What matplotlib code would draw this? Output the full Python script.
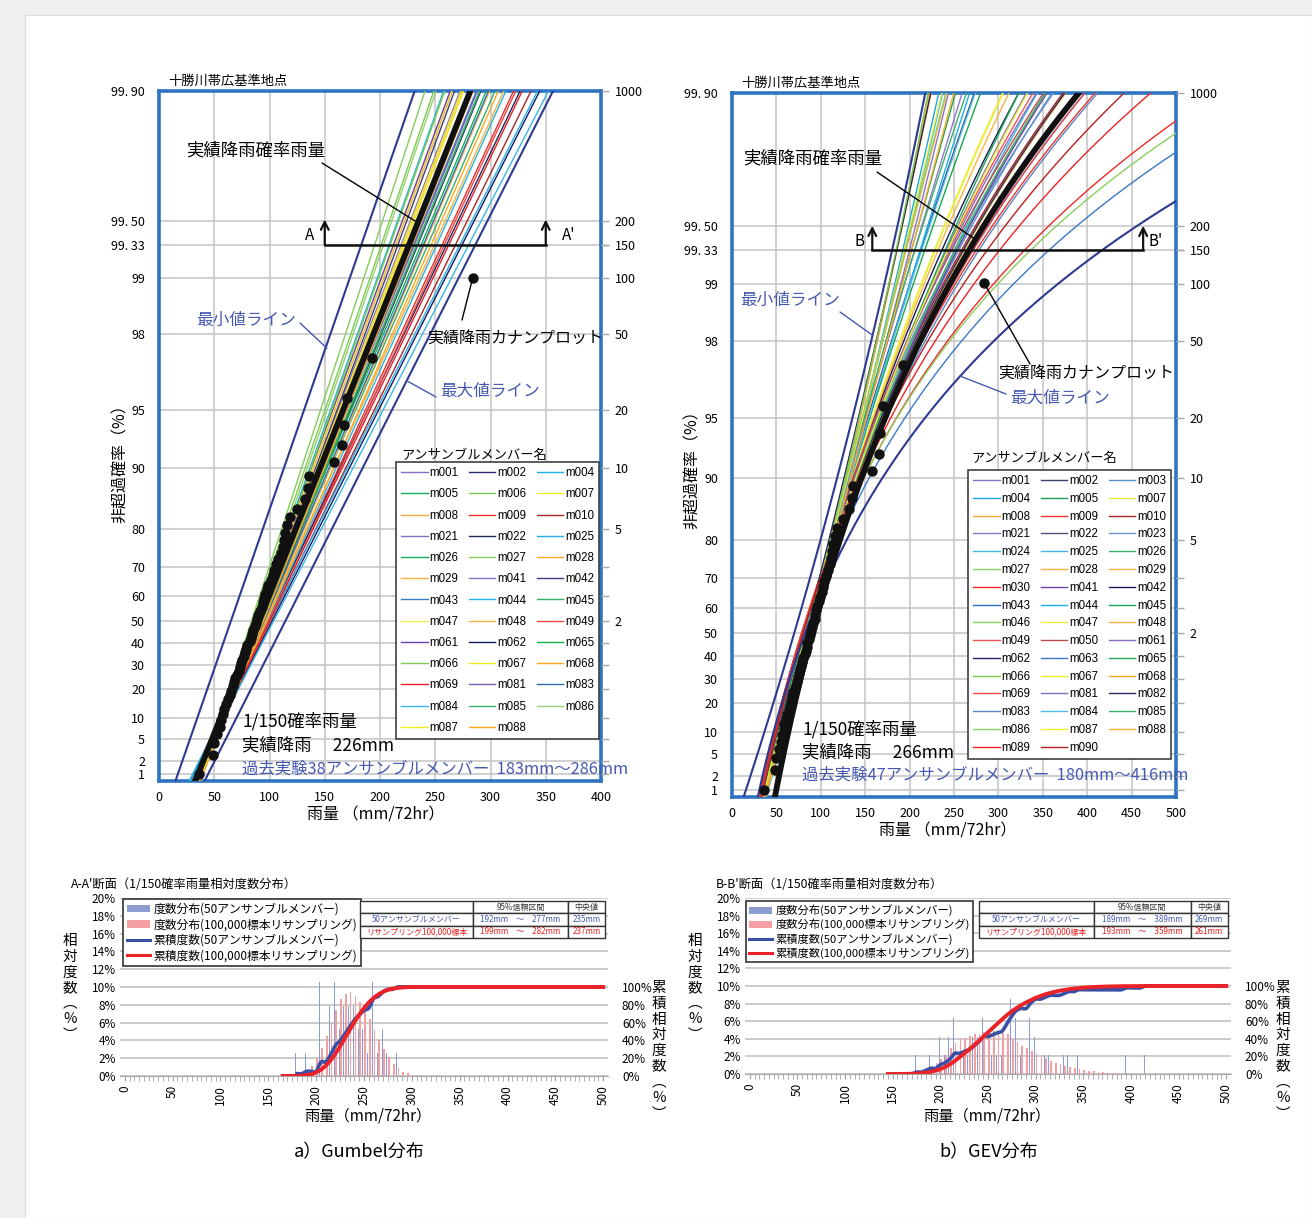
import numpy as np
import matplotlib
matplotlib.use('Agg')
import matplotlib.pyplot as plt
from matplotlib.lines import Line2D
from matplotlib.patches import Patch, Rectangle

plt.rcParams['font.family'] = ['Noto Sans CJK JP', 'DejaVu Sans']

# ---------------- data ----------------
prob_ticks = [99.9, 99.5, 99.33, 99, 98, 95, 90, 80, 70, 60, 50, 40, 30, 20, 10, 5, 2, 1]
prob_labels = ['99. 90', '99. 50', '99. 33', '99', '98', '95', '90', '80', '70', '60',
               '50', '40', '30', '20', '10', '5', '2', '1']
return_periods = [1000, 200, 150, 100, 50, 20, 10, 5, 2]

# observed annual maximum 72hr rainfall (mm), descending
rain_obs = [284, 193, 170, 167, 166, 158, 136, 135, 132, 125,
            118.5, 115.5, 114, 113, 112, 110, 108, 106, 104, 103,
            101, 99, 98, 96, 95, 94, 93, 91, 90, 89,
            88, 87, 85, 84, 83, 82, 80, 79, 78, 77,
            75, 74, 73, 72, 71, 69, 68, 67, 65, 64,
            62, 61, 59, 58, 56, 55, 52.7, 49.8, 48.5, 36]

# Gumbel members (location mu, scale beta)
gum_members = ['m001', 'm002', 'm004', 'm005', 'm006', 'm007', 'm008', 'm009', 'm010', 'm021',
               'm022', 'm025', 'm026', 'm027', 'm028', 'm029', 'm041', 'm042', 'm043', 'm044',
               'm045', 'm047', 'm048', 'm049', 'm061', 'm062', 'm065', 'm066', 'm067', 'm068',
               'm069', 'm081', 'm083', 'm084', 'm085', 'm086', 'm087', 'm088']
gum_mu = [80, 84, 78, 82, 76, 81, 79, 86, 88, 80, 85, 87, 83, 75, 82, 84, 79, 81, 80, 86,
          83, 78, 85, 88, 77, 89, 82, 79, 80, 86, 87, 81, 84, 90, 83, 78, 82, 84]
gum_beta = [28, 30, 26, 31, 25, 29, 27, 34, 36, 29, 35, 37, 30, 24, 28, 33, 28, 27, 30, 33,
            32, 27, 31, 34, 27, 37, 29, 26, 28, 32, 35, 30, 31, 38, 30, 25, 28, 29]
gum_colors = ['#8E6FC8', '#2B2F6B', '#1EB4E8', '#13B04F', '#7CCB4E', '#F2EE22', '#F7A93A',
              '#E8302E', '#A82828', '#8A6CC0', '#1E2A5A', '#2AB0E6', '#12B050', '#84CC5A',
              '#FFA91E', '#FBB040', '#8A6FC6', '#3A3F78', '#3A7CC9', '#27B3E8', '#34B06A',
              '#EEEE55', '#F7B045', '#EE4A4A', '#6A3FB6', '#141A5E', '#11AE4E', '#7CC94D',
              '#F2EB1B', '#FFA820', '#E5202A', '#7B62B5', '#2F6EB6', '#3AB6EA', '#3FB36D',
              '#97CE78', '#F3EE1A', '#FFA81C']
gum_obs_param = [80, 29.2]
gum_min_param = [55.9, 25.4]
gum_max_param = [101, 37]

# GEV members (location, scale, shape)
gev_members = ['m001', 'm002', 'm003', 'm004', 'm005', 'm007', 'm008', 'm009', 'm010', 'm021',
               'm022', 'm023', 'm024', 'm025', 'm026', 'm027', 'm028', 'm029', 'm030', 'm041',
               'm042', 'm043', 'm044', 'm045', 'm046', 'm047', 'm048', 'm049', 'm050', 'm061',
               'm062', 'm063', 'm065', 'm066', 'm067', 'm068', 'm069', 'm081', 'm082', 'm083',
               'm084', 'm085', 'm086', 'm087', 'm088', 'm089', 'm090']
gev_mu = [76, 74, 70, 78, 72, 75, 77, 68, 70, 74, 73, 71, 76, 75, 73, 74, 76, 72, 68, 75,
          74, 70, 75, 73, 69, 74, 76, 70, 71, 73, 74, 69, 74, 76, 75, 73, 70, 74, 72, 71,
          75, 73, 75, 74, 77, 69, 70]
gev_a = [26, 25, 27, 24, 26, 25, 24, 27, 26, 25, 26, 25, 25, 27, 24, 26, 23, 26, 27, 26,
         25, 27, 26, 26, 26, 25, 24, 26, 25, 26, 24, 28, 27, 24, 25, 26, 27, 25, 26, 27,
         25, 26, 24, 26, 25, 27, 26]
gev_k = [0.02, -0.04, -0.12, 0.02, 0.00, -0.08, 0.04, -0.16, -0.14, -0.02,
         -0.10, -0.14, 0.02, -0.10, -0.04, -0.12, 0.02, -0.08, -0.24, -0.12,
         -0.10, -0.15, -0.02, -0.04, -0.26, -0.08, 0.00, -0.11, -0.13, -0.10,
         0.03, -0.26, -0.08, 0.04, 0.02, -0.14, -0.15, -0.12, -0.14, -0.16,
         -0.04, -0.12, 0.00, -0.10, 0.00, -0.20, -0.19]
gev_colors = ['#8E72C6', '#3B3F73', '#5B8FD0', '#1AA7E0', '#1AA050', '#EEEA3A', '#F9A83A',
              '#E8362E', '#A82020', '#9178C8', '#4A4E7C', '#6A95CF', '#3EBDE8', '#3BB7E6',
              '#3DB36A', '#8ED06A', '#FBB03B', '#FAB443', '#F02828', '#6B40B0', '#161A5A',
              '#2D6DC0', '#1AAEE8', '#17A84F', '#8CCF5E', '#EEEE40', '#F9B040', '#EE5555',
              '#C04848', '#8A70C4', '#24285E', '#3A78C8', '#22AA55', '#7CC653', '#EDEA2E',
              '#F9A624', '#EE4848', '#8470BA', '#2A2D5E', '#5A86C4', '#4DBCE8', '#3DB36E',
              '#8ED06A', '#F0EE30', '#FBB034', '#EE2222', '#B81E1E']
gev_obs_param = [81.5, 23.5, -0.17]
gev_min_param = [60, 27.7, 0.058]
gev_max_param = [70.2, 31.7, -0.28]

# histograms (5 mm categories)
gum_ens_bins = [180, 190, 205, 215, 220, 225, 230, 235, 240, 245, 250, 255, 260, 265, 270, 275, 285]
gum_ens_counts = [1, 1, 4, 3, 4, 2, 3, 3, 3, 2, 2, 1, 4, 1, 2, 1, 1]
gum_res_bins = list(range(180, 306, 5))
gum_res_pct = [0.1, 0.3, 0.6, 1.1, 2.0, 3.1, 4.5, 6.0, 7.4, 8.6, 9.2, 9.4, 9.0, 8.3, 7.4, 6.4,
               5.2, 4.0, 3.0, 2.1, 1.4, 0.9, 0.5, 0.3, 0.15, 0.08]
gev_ens_bins = [175, 185, 190, 200, 205, 210, 215, 225, 230, 235, 240, 245, 255, 260, 265, 270,
                275, 280, 285, 295, 300, 310, 315, 330, 335, 345, 395, 415]
gev_ens_counts = [1, 1, 1, 2, 1, 2, 3, 1, 1, 2, 2, 3, 1, 1, 1, 4, 4, 3, 1, 3, 2, 1, 1, 1, 1, 1, 1, 1]
gev_res_bins = list(range(160, 421, 5))
gev_res_pct = [0.05, 0.08, 0.12, 0.25, 0.4, 0.6, 0.9, 1.3, 1.7, 2.2,
               3.0, 3.5, 4.0, 4.1, 4.3, 4.5, 4.6, 4.8, 5.0, 4.9,
               4.8, 4.7, 4.6, 4.0, 3.6, 3.2, 2.9, 2.6, 2.4, 2.0,
               1.8, 1.5, 1.3, 1.1, 0.95, 0.8, 0.65, 0.55, 0.45, 0.38,
               0.3, 0.25, 0.2, 0.16, 0.13, 0.1, 0.08, 0.06, 0.05, 0.04,
               0.03, 0.02, 0.02]
categories = list(range(0, 501, 5))

gum_table = [['', '95%信頼区間', '中央値'],
             ['50アンサンブルメンバー', '192mm　～　277mm', '235mm'],
             ['リサンプリング100,000標本', '199mm　～　282mm', '237mm']]
gev_table = [['', '95%信頼区間', '中央値'],
             ['50アンサンブルメンバー', '189mm　～　389mm', '269mm'],
             ['リサンプリング100,000標本', '193mm　～　359mm', '261mm']]

# ---------------- helpers ----------------
W, H = 1312, 1218
BLUE_TXT = '#4659B2'
SPINE = '#2E74C0'
EXT = '#2E3A8F'


def F(x, y):
    return (x / W, 1 - y / H)


def gumy(p):
    p = np.asarray(p, dtype=float)
    return -np.log(-np.log(p))


def gev_x(y, mu, a, k):
    if k == 0:
        return mu + a * y
    return mu + a / k * (1 - np.exp(-k * y))


def smooth(xs, ys, n=8):
    P = np.column_stack([xs, ys]).astype(float)
    P = np.vstack([P[0], P, P[-1]])
    out = []
    t = np.linspace(0, 1, n, endpoint=False)[:, None]
    for i in range(1, len(P) - 2):
        p0, p1, p2, p3 = P[i - 1], P[i], P[i + 1], P[i + 2]
        seg = 0.5 * ((2 * p1) + (-p0 + p2) * t + (2 * p0 - 5 * p1 + 4 * p2 - p3) * t ** 2
                     + (-p0 + 3 * p1 - 3 * p2 + p3) * t ** 3)
        out.append(seg)
    out.append(P[-2][None, :])
    S = np.vstack(out)
    return S[:, 0], S[:, 1]


YMAX = float(gumy(0.999))
YMIN = -1.615
yline = np.linspace(-1.8, 7.1, 400)

fig = plt.figure(figsize=(13.12, 12.18), dpi=100)
fig.patch.set_facecolor('#EEF0F0')
fig.patches.append(Rectangle((25 / W, 0), 1 - 25 / W, 1 - 15 / H, transform=fig.transFigure,
                             facecolor='white', edgecolor='#DCDCDC', lw=0.8, zorder=-10))


def setup_prob_axes(ax, xmax):
    ax.set_xlim(0, xmax)
    ax.set_ylim(YMIN, YMAX)
    ax.set_yticks(gumy(np.array(prob_ticks) / 100))
    ax.set_yticklabels(prob_labels, fontsize=9)
    ax.set_xticks(np.arange(0, xmax + 1, 50))
    ax.set_xticklabels([str(v) for v in range(0, xmax + 1, 50)], fontsize=9)
    ax.tick_params(axis='y', length=0, pad=10)
    ax.tick_params(axis='x', length=0, pad=7)
    ax.grid(True, color='#C8C8C8', lw=1.2)
    ax.set_axisbelow(True)
    for s in ax.spines.values():
        s.set_color(SPINE)
        s.set_linewidth(2.6)
    axr = ax.twinx()
    axr.set_ylim(YMIN, YMAX)
    axr.set_yticks(gumy(1 - 1 / np.array(return_periods, dtype=float)))
    axr.set_yticklabels([str(t) for t in return_periods], fontsize=9)
    axr.set_yticks(gumy(np.array(prob_ticks) / 100), minor=True)
    axr.tick_params(axis='y', which='both', length=6, color='#A8A8A8', width=1, pad=4)
    for s in axr.spines.values():
        s.set_visible(False)
    return axr


def member_legend(ax, handles, names, x, y, spacing):
    order = list(range(0, len(names), 3)) + list(range(1, len(names), 3)) + list(range(2, len(names), 3))
    leg = ax.legend([handles[i] for i in order], [names[i] for i in order], ncol=3,
                    loc='upper left', bbox_to_anchor=F(x, y), bbox_transform=fig.transFigure,
                    prop={'family': 'Liberation Sans', 'size': 8.3}, frameon=True, fancybox=False,
                    edgecolor='#404040', borderaxespad=0, handlelength=2.3, handletextpad=0.15,
                    columnspacing=0.9, labelspacing=spacing, borderpad=0.45, framealpha=1)
    leg.get_frame().set_linewidth(1.2)
    leg.set_zorder(20)
    return leg


def leader(ax, xy_data, xy_px, color='black'):
    ax.annotate('', xy=xy_data, xycoords='data', xytext=F(*xy_px), textcoords='figure fraction',
                arrowprops=dict(arrowstyle='-', color=color, lw=1.0, shrinkA=0, shrinkB=0),
                annotation_clip=False, zorder=15)


# ---------------- top-left: Gumbel ----------------
ax1 = fig.add_axes([159 / W, 1 - 781 / H, 442 / W, 690 / H])
setup_prob_axes(ax1, 400)
h1 = []
for mu, b, c in zip(gum_mu, gum_beta, gum_colors):
    ln, = ax1.plot(mu + b * yline, yline, color=c, lw=1.0, zorder=3)
    h1.append(ln)
for mu, b in [gum_min_param, gum_max_param]:
    ax1.plot(mu + b * yline, yline, color=EXT, lw=1.5, zorder=4)
ax1.plot(gum_obs_param[0] + gum_obs_param[1] * yline, yline, color='#111111', lw=4.2, zorder=5)

n_obs = len(rain_obs)
rank = np.arange(1, n_obs + 1)
p_obs = 1 - (rank - 0.4) / (n_obs + 0.2)
y_obs = gumy(p_obs)
ax1.plot(rain_obs, y_obs, 'o', color='#111111', ms=6.5, zorder=6, clip_on=False)

y150 = float(gumy(1 - 1 / 150))
ax1.plot([150, 350], [y150, y150], color='#111111', lw=1.8, zorder=12)
for xa in [150, 350]:
    ax1.annotate('', xy=(xa, 5.32), xytext=(xa, y150),
                 arrowprops=dict(arrowstyle='->', color='#111111', lw=1.6, mutation_scale=14,
                                 shrinkA=0, shrinkB=0), zorder=12)
fig.text(*F(310, 236), 'A', fontsize=11, ha='center', va='center')
fig.text(*F(569, 236), "A'", fontsize=11, ha='center', va='center')

member_legend(ax1, h1, gum_members, 396, 462, 0.8)
fig.text(*F(401, 455), 'アンサンブルメンバー名', fontsize=9.5, ha='left', va='center')
fig.text(*F(168, 81), '十勝川帯広基準地点', fontsize=9.5, ha='left', va='center')

fig.text(*F(256, 150), '実績降雨確率雨量', fontsize=12.5, ha='center', va='center')
leader(ax1, (232, 5.3), (322, 163))
fig.text(*F(246, 320), '最小値ライン', fontsize=12, ha='center', va='center', color=BLUE_TXT)
leader(ax1, (152, 3.73), (300, 323), color=BLUE_TXT)
fig.text(*F(515, 338), '実績降雨カナンプロット', fontsize=11.5, ha='center', va='center')
leader(ax1, (rain_obs[0], y_obs[0]), (462, 320))
fig.text(*F(490, 391), '最大値ライン', fontsize=12, ha='center', va='center', color=BLUE_TXT)
leader(ax1, (224, 3.33), (436, 397), color=BLUE_TXT)

fig.text(*F(242, 721), '1/150確率雨量', fontsize=12.5, ha='left', va='center')
fig.text(*F(242, 745), '実績降雨　 226mm', fontsize=12.5, ha='left', va='center')
fig.text(*F(242, 769), '過去実験38アンサンブルメンバー  183mm～286mm', fontsize=11.8,
         ha='left', va='center', color=BLUE_TXT)
fig.text(*F(120, 460), '非超過確率（%）', fontsize=11.5, rotation=90, ha='center', va='center')
fig.text(*F(376, 815), '雨量 （mm/72hr）', fontsize=11.5, ha='center', va='center')

# ---------------- top-right: GEV ----------------
ax2 = fig.add_axes([732 / W, 1 - 797 / H, 444 / W, 704 / H])
setup_prob_axes(ax2, 500)
h2 = []
for mu, a, k, c in zip(gev_mu, gev_a, gev_k, gev_colors):
    ln, = ax2.plot(gev_x(yline, mu, a, k), yline, color=c, lw=1.0, zorder=3)
    h2.append(ln)
for prm in [gev_min_param, gev_max_param]:
    ax2.plot(gev_x(yline, *prm), yline, color=EXT, lw=1.5, zorder=4)
ax2.plot(gev_x(yline, *gev_obs_param), yline, color='#111111', lw=4.2, zorder=5)
ax2.plot(rain_obs, y_obs, 'o', color='#111111', ms=6.5, zorder=6, clip_on=False)

ax2.plot([158, 463], [y150, y150], color='#111111', lw=1.8, zorder=12)
for xa in [158, 463]:
    ax2.annotate('', xy=(xa, 5.3), xytext=(xa, y150),
                 arrowprops=dict(arrowstyle='->', color='#111111', lw=1.6, mutation_scale=14,
                                 shrinkA=0, shrinkB=0), zorder=12)
fig.text(*F(859, 242), 'B', fontsize=11, ha='center', va='center')
fig.text(*F(1156, 242), "B'", fontsize=11, ha='center', va='center')

member_legend(ax2, h2, gev_members, 968, 470, 0.5)
fig.text(*F(971, 458), 'アンサンブルメンバー名', fontsize=9.5, ha='left', va='center')
fig.text(*F(741, 83), '十勝川帯広基準地点', fontsize=9.5, ha='left', va='center')

fig.text(*F(813, 158), '実績降雨確率雨量', fontsize=12.5, ha='center', va='center')
leader(ax2, (272, 5.15), (877, 172))
fig.text(*F(790, 300), '最小値ライン', fontsize=12, ha='center', va='center', color=BLUE_TXT)
leader(ax2, (158, 3.977), (840, 312), color=BLUE_TXT)
fig.text(*F(1086, 373), '実績降雨カナンプロット', fontsize=11.5, ha='center', va='center')
leader(ax2, (rain_obs[0], y_obs[0]), (1030, 364))
fig.text(*F(1060, 398), '最大値ライン', fontsize=12, ha='center', va='center', color=BLUE_TXT)
leader(ax2, (257, 3.48), (1006, 394), color=BLUE_TXT)

fig.text(*F(802, 729), '1/150確率雨量', fontsize=12.5, ha='left', va='center')
fig.text(*F(802, 752), '実績降雨　 266mm', fontsize=12.5, ha='left', va='center')
fig.text(*F(802, 775), '過去実験47アンサンブルメンバー  180mm～416mm', fontsize=11.8,
         ha='left', va='center', color=BLUE_TXT)
fig.text(*F(692, 466), '非超過確率（%）', fontsize=11.5, rotation=90, ha='center', va='center')
fig.text(*F(948, 831), '雨量 （mm/72hr）', fontsize=11.5, ha='center', va='center')


# ---------------- histograms ----------------
def hist_panel(rect, ens_bins, ens_counts, res_bins, res_pct, ens_start, res_start,
               table, title, title_xy, leg_xy, leg_fs, table_rect, ylab_x, ylab2_x, xlab_xy):
    ax = fig.add_axes(rect)
    cats = np.array(categories, dtype=float)
    ens = np.zeros(len(cats))
    for b, c in zip(ens_bins, ens_counts):
        ens[categories.index(b)] = c
    ens = ens / ens.sum()
    res = np.zeros(len(cats))
    for b, v in zip(res_bins, res_pct):
        res[categories.index(b)] = v / 100.0
    ax.bar(cats - 1.1, ens, width=1.0, color='#8C9DD2', zorder=3)
    ax.bar(cats + 1.0, res, width=1.8, color='#F4A0A3', zorder=3)
    ax.set_xlim(-5, 505)
    ax.set_ylim(0, 0.2)
    ax.set_yticks(np.arange(0, 0.201, 0.02))
    ax.set_yticklabels(['%d%%' % v for v in range(0, 21, 2)], fontsize=8.5)
    ax.set_xticks(np.arange(0, 501, 50))
    ax.set_xticklabels([str(v) for v in range(0, 501, 50)], fontsize=8.5, rotation=90)
    ax.set_xticks(cats, minor=True)
    ax.tick_params(axis='x', which='both', length=3.5, color='#A0A0A0', pad=3)
    ax.tick_params(axis='y', length=0, pad=3)
    ax.grid(True, axis='y', color='#BDBDBD', lw=1.1)
    ax.set_axisbelow(True)
    for k, s in ax.spines.items():
        s.set_visible(k == 'bottom')
    ax.spines['bottom'].set_color('#A8A8A8')

    axc = ax.twinx()
    axc.set_ylim(0, 2.0)
    axc.set_yticks(np.arange(0, 1.01, 0.2))
    axc.set_yticklabels(['%d%%' % v for v in range(0, 101, 20)], fontsize=8.5)
    axc.tick_params(axis='y', length=0, pad=10)
    for s in axc.spines.values():
        s.set_visible(False)
    cum_e = np.cumsum(ens)
    cum_r = np.cumsum(res) / res.sum()
    me = cats >= ens_start
    mr = cats >= res_start
    xs, ys = smooth(cats[me], cum_e[me])
    axc.plot(xs, ys, color='#3A4FA6', lw=2.6, zorder=5)
    xs, ys = smooth(cats[mr], cum_r[mr])
    axc.plot(xs, ys, color='#EC2229', lw=2.8, zorder=6)

    handles = [Patch(facecolor='#8C9DD2'), Patch(facecolor='#F4A0A3'),
               Line2D([], [], color='#3A4FA6', lw=2.2), Line2D([], [], color='#EC2229', lw=2.2)]
    labels = ['度数分布(50アンサンブルメンバー)', '度数分布(100,000標本リサンプリング)',
              '累積度数(50アンサンブルメンバー)', '累積度数(100,000標本リサンプリング)']
    leg = axc.legend(handles, labels, loc='upper left', bbox_to_anchor=F(*leg_xy),
                     bbox_transform=fig.transFigure, fontsize=leg_fs, frameon=True, fancybox=False,
                     edgecolor='#333333', borderaxespad=0, handlelength=2.0, handleheight=0.6,
                     handletextpad=0.3, labelspacing=0.22, borderpad=0.3, framealpha=1)
    leg.get_frame().set_linewidth(1.2)

    axt = fig.add_axes(table_rect)
    axt.axis('off')
    tbl = axt.table(cellText=table, colWidths=[0.46, 0.39, 0.15], bbox=[0, 0, 1, 1],
                    cellLoc='center')
    tbl.auto_set_font_size(False)
    tbl.set_fontsize(5.8)
    row_colors = ['#333333', BLUE_TXT, '#E82020']
    for (r, c), cell in tbl.get_celld().items():
        cell.set_edgecolor('#333333')
        cell.set_linewidth(1.0)
        cell.get_text().set_color(row_colors[r])
        if c == 0:
            cell._loc = 'left'
            cell.PAD = 0.01

    fig.text(*F(*title_xy), title, fontsize=8.8, ha='left', va='center')
    fig.text(*F(ylab_x, 988), '\n'.join('相対度数︵%︶'), fontsize=10.5, ha='center',
             va='center', linespacing=1.15)
    fig.text(*F(ylab2_x, 1051), '\n'.join('累積相対度数︵%︶'), fontsize=10.5, ha='center',
             va='center', linespacing=1.15)
    fig.text(*F(*xlab_xy), '雨量（mm/72hr）', fontsize=11, ha='center', va='center')
    return ax


hist_panel([120 / W, 1 - 1076 / H, 488 / W, 178 / H], gum_ens_bins, gum_ens_counts,
           gum_res_bins, gum_res_pct, 180, 165, gum_table,
           "A-A'断面（1/150確率雨量相対度数分布）", (71, 884), (123, 899), 8.5,
           [360 / W, 1 - 938 / H, 245 / W, 37 / H], 70, 659, (368, 1116))
hist_panel([745 / W, 1 - 1074 / H, 486 / W, 176 / H], gev_ens_bins, gev_ens_counts,
           gev_res_bins, gev_res_pct, 170, 145, gev_table,
           "B-B'断面（1/150確率雨量相対度数分布）", (716, 884), (746, 901), 8.1,
           [979 / W, 1 - 938 / H, 249 / W, 37 / H], 695, 1283, (987, 1116))

fig.text(*F(359, 1152), 'a）Gumbel分布', fontsize=13, ha='center', va='center')
fig.text(*F(989, 1152), 'b）GEV分布', fontsize=13, ha='center', va='center')

fig.savefig('out.png', dpi=100, facecolor=fig.get_facecolor())
